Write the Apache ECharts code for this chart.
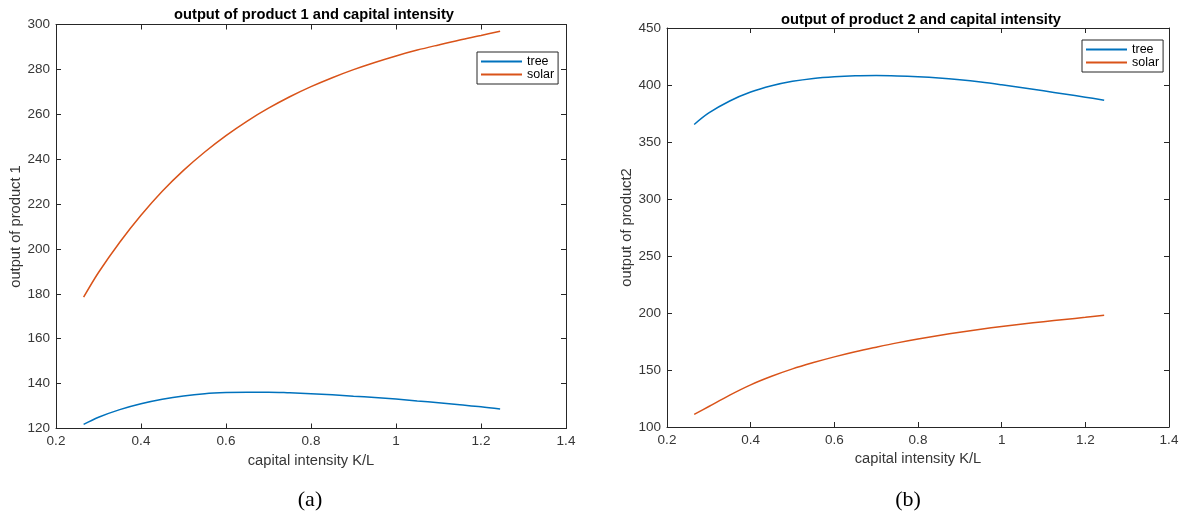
<!DOCTYPE html>
<html>
<head>
<meta charset="utf-8">
<script src="https://cdn.jsdelivr.net/npm/echarts@6/dist/echarts.min.js"></script>
<style>
html,body{margin:0;padding:0;background:#fff;}
#main{width:1184px;height:517px;}
</style>
</head>
<body>
<div id="main"></div>
<script>
// capital intensity K/L
var xs = [0.265, 0.3, 0.35, 0.4, 0.45, 0.5, 0.55, 0.6, 0.65, 0.7, 0.75, 0.8, 0.85, 0.9, 0.95, 1.0, 1.05, 1.1, 1.15, 1.2, 1.245];
// output of product 1
var tree1  = [121.8, 125.0, 128.4, 131.0, 133.0, 134.5, 135.5, 136.0, 136.2, 136.2, 135.9, 135.5, 135.0, 134.4, 133.8, 133.1, 132.3, 131.5, 130.6, 129.7, 128.7];
var solar1 = [178.5, 189.5, 203, 215, 225.7, 235, 243.2, 250.5, 257, 262.7, 267.8, 272.3, 276.3, 279.9, 283.1, 286, 288.6, 290.9, 293.1, 295.1, 297];
// output of product 2
var tree2  = [365.4, 375.5, 386, 393.8, 399.3, 403.2, 405.8, 407.3, 408.1, 408.3, 408.0, 407.3, 406.2, 404.6, 402.6, 400.2, 397.6, 394.9, 392.1, 389.3, 386.7];
var solar2 = [111, 118, 128, 137, 144.5, 151, 156.5, 161.5, 166, 170, 173.8, 177.2, 180.3, 183.2, 185.8, 188.2, 190.4, 192.4, 194.3, 196.2, 198];

var xTicks = [0.2, 0.4, 0.6, 0.8, 1, 1.2, 1.4];
var titles = ['output of product 1 and capital intensity', 'output of product 2 and capital intensity'];
var yNames = ['output of product 1', 'output of product2'];
var xName = 'capital intensity K/L';
var captions = ['(a)', '(b)'];

function pair(x, y) { return x.map(function (v, i) { return [v, y[i]]; }); }

var axisCol = '#262626';
var labCol = '#363636';
var FONT = 'Liberation Sans, Arial, sans-serif';
var BLUE = '#0072BD', ORANGE = '#D95319';

var grids = [
  {left: 56, top: 24.5, width: 510, height: 404},
  {left: 667, top: 28, width: 502, height: 399}
];
var yRanges = [[120, 300, 20], [100, 450, 50]];

var xAxes = [], yAxes = [];
grids.forEach(function (g, i) {
  xAxes.push({
    type: 'value', gridIndex: i, min: 0.2, max: 1.4, interval: 0.2, position: 'bottom',
    name: xName, nameLocation: 'middle', nameGap: 24,
    nameTextStyle: {color: labCol, fontSize: 14.7, fontFamily: FONT},
    axisLine: {show: true, lineStyle: {color: axisCol, width: 1}},
    axisTick: {show: true, inside: true, length: 5, lineStyle: {color: axisCol}},
    axisLabel: {color: labCol, fontSize: 13.5, fontFamily: FONT, margin: 6,
      formatter: function (v) { return String(Math.round(v * 10) / 10); }},
    splitLine: {show: false}
  });
  xAxes.push({
    type: 'value', gridIndex: i, min: 0.2, max: 1.4, interval: 0.2, position: 'top',
    axisLine: {show: true, lineStyle: {color: axisCol, width: 1}},
    axisTick: {show: true, inside: true, length: 5, lineStyle: {color: axisCol}},
    axisLabel: {show: false}, splitLine: {show: false}
  });
  var r = yRanges[i];
  yAxes.push({
    type: 'value', gridIndex: i, min: r[0], max: r[1], interval: r[2], position: 'left',
    name: yNames[i], nameLocation: 'middle', nameGap: 33,
    nameTextStyle: {color: labCol, fontSize: 14.7, fontFamily: FONT},
    axisLine: {show: true, lineStyle: {color: axisCol, width: 1}},
    axisTick: {show: true, inside: true, length: 5, lineStyle: {color: axisCol}},
    axisLabel: {color: labCol, fontSize: 13.5, fontFamily: FONT, margin: 6},
    splitLine: {show: false}
  });
  yAxes.push({
    type: 'value', gridIndex: i, min: r[0], max: r[1], interval: r[2], position: 'right',
    axisLine: {show: true, lineStyle: {color: axisCol, width: 1}},
    axisTick: {show: true, inside: true, length: 5, lineStyle: {color: axisCol}},
    axisLabel: {show: false}, splitLine: {show: false}
  });
});

function lineSeries(name, data, color, xi, yi) {
  return {
    name: name, type: 'line', xAxisIndex: xi, yAxisIndex: yi,
    data: data, showSymbol: false, symbol: 'none', smooth: 0.35,
    lineStyle: {color: color, width: 1.5}, itemStyle: {color: color},
    animation: false
  };
}

var legendCommon = {
  orient: 'vertical', icon: 'rect', itemWidth: 41, itemHeight: 2, itemGap: 0,
  backgroundColor: '#fff', borderColor: axisCol, borderWidth: 1, borderRadius: 0,
  padding: [3, 4, 3, 4], selectedMode: false,
  textStyle: {color: '#000', fontSize: 12.5, lineHeight: 13, fontFamily: FONT},
  data: ['tree', 'solar']
};

var option = {
  backgroundColor: '#fff',
  animation: false,
  title: [
    {text: titles[0], left: 309, top: 2, textAlign: 'center',
      textStyle: {fontSize: 14.7, fontWeight: 'bold', color: '#000', fontFamily: FONT}},
    {text: titles[1], left: 916, top: 7, textAlign: 'center',
      textStyle: {fontSize: 14.7, fontWeight: 'bold', color: '#000', fontFamily: FONT}},
    {text: captions[0], left: 305, top: 484, textAlign: 'center',
      textStyle: {fontSize: 22, fontWeight: 'normal', color: '#000', fontFamily: 'Liberation Serif, Times New Roman, serif'}},
    {text: captions[1], left: 903, top: 484, textAlign: 'center',
      textStyle: {fontSize: 22, fontWeight: 'normal', color: '#000', fontFamily: 'Liberation Serif, Times New Roman, serif'}}
  ],
  legend: [
    Object.assign({}, legendCommon, {left: 477, top: 52}),
    Object.assign({}, legendCommon, {left: 1082, top: 40})
  ],
  grid: grids,
  xAxis: xAxes,
  yAxis: yAxes,
  series: [
    lineSeries('tree', pair(xs, tree1), BLUE, 0, 0),
    lineSeries('solar', pair(xs, solar1), ORANGE, 0, 0),
    lineSeries('tree', pair(xs, tree2), BLUE, 2, 2),
    lineSeries('solar', pair(xs, solar2), ORANGE, 2, 2)
  ]
};

var chart = echarts.init(document.getElementById('main'), null, {renderer: 'canvas'});
chart.setOption(option);
</script>
</body>
</html>
